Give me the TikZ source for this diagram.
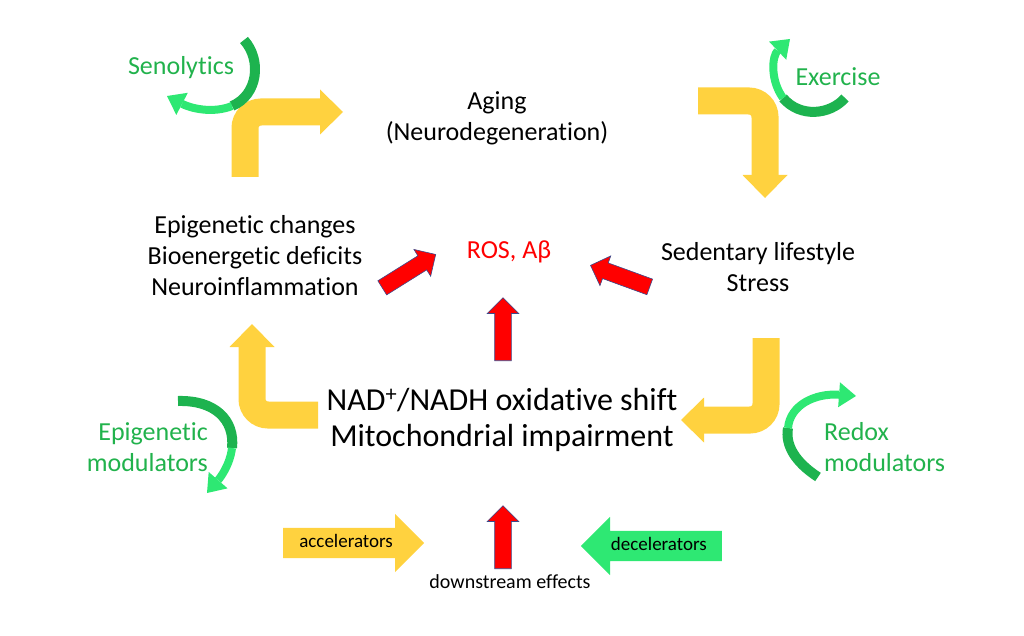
\documentclass[tikz,border=0pt]{standalone}
\usepackage{fontspec}
\setmainfont{Carlito}[Ligatures=NoCommon]
\usepackage{tikz}
\usetikzlibrary{arrows.meta, positioning, shapes.arrows}
\definecolor{BendYellow}{HTML}{FFD23F}
\definecolor{LeafGreen}{HTML}{1DB34F}
\definecolor{LightGreen}{HTML}{2EE873}
\definecolor{TextGreen}{HTML}{21B24C}
\definecolor{ArrowEdge}{HTML}{3B4A8C}

\begin{document}
\begin{tikzpicture}[x=1pt, y=-1pt,
  txt/.style={font=\fontsize{26}{31}\selectfont, align=center, inner sep=0pt},
  big_txt/.style={font=\fontsize{32}{36}\selectfont, align=center, inner sep=0pt},
  grn_txt/.style={txt, text=TextGreen},
  yel_bend/.style={BendYellow, line width=27pt, rounded corners=16pt,
    -{Triangle[length=23pt 0 0, width=45pt 0 0, line width=0pt]}},
  curl_tip/.style={-{Triangle[length=17pt 0 0, width=25pt 0 0, line width=0pt]}},
  red_arr/.style={single arrow, draw=ArrowEdge, line width=0.6pt, fill=red,
    minimum height=63pt, inner xsep=0pt, inner ysep=8pt, single arrow head extend=7.5pt},
  block_arr/.style={single arrow, minimum height=141pt, font=\fontsize{19}{22}\selectfont,
    text height=13pt, text depth=4pt, inner ysep=6.5pt, inner xsep=8pt,
    single arrow head extend=14pt},
]
  \useasboundingbox (0,0) rectangle (1024,636);

  % text blocks
  \node[txt] (aging) at (497,118) {Aging\\(Neurodegeneration)};
  \node[txt] (changes) at (255,256) {Epigenetic changes\\Bioenergetic deficits\\Neuroinflammation};
  \node[txt, text=red] (ros) at (509,252) {ROS, Aβ};
  \node[txt] (lifestyle) at (758,267) {Sedentary lifestyle\\Stress};
  \node[big_txt] (nad) at (502,420) {NAD\textsuperscript{+}/NADH oxidative shift\\Mitochondrial impairment};

  % modulators
  \node[grn_txt] (senolytics) at (181,68) {Senolytics};
  \node[grn_txt] (exercise) at (838,77) {Exercise};
  \node[grn_txt, align=right, anchor=east] (epimod) at (208,447) {Epigenetic\\modulators};
  \node[grn_txt, align=left, anchor=west] (redox) at (824,447) {Redox\\modulators};
  \node[font=\fontsize{20}{23}\selectfont, inner sep=0pt] (downstream) at (510,582) {downstream effects};

  % yellow cycle
  \coordinate (tl_a) at (245,177); \coordinate (tl_b) at (245,112); \coordinate (tl_c) at (343,112);
  \coordinate (tr_a) at (698,101); \coordinate (tr_b) at (765,101); \coordinate (tr_c) at (765,198);
  \coordinate (br_a) at (766,338); \coordinate (br_b) at (766,420); \coordinate (br_c) at (681,420);
  \coordinate (bl_a) at (318,415); \coordinate (bl_b) at (252,415); \coordinate (bl_c) at (252,324);
  \draw[yel_bend] (tl_a) -- (tl_b) -- (tl_c);
  \draw[yel_bend] (tr_a) -- (tr_b) -- (tr_c);
  \draw[yel_bend] (br_a) -- (br_b) -- (br_c);
  \draw[yel_bend] (bl_a) -- (bl_b) -- (bl_c);

  % green curls
  \coordinate (sen_a) at (244,40); \coordinate (sen_b) at (232,106); \coordinate (sen_c) at (167,96);
  \draw[LeafGreen, line width=10pt] (sen_a) .. controls (262,60) and (258,95) .. (sen_b);
  \draw[LightGreen, line width=8pt, curl_tip] (sen_b) .. controls (212,114) and (190,108) .. (sen_c);
  \coordinate (ex_a) at (845,98); \coordinate (ex_b) at (783,98); \coordinate (ex_c) at (790,39);
  \draw[LeafGreen, line width=10pt] (ex_a) .. controls (830,115) and (800,118) .. (ex_b);
  \draw[LightGreen, line width=8pt, curl_tip] (ex_b) .. controls (770,80) and (772,56) .. (ex_c);
  \coordinate (ep_a) at (178,401); \coordinate (ep_b) at (232,448); \coordinate (ep_c) at (207,493);
  \draw[LeafGreen, line width=10pt] (ep_a) .. controls (215,400) and (235,420) .. (ep_b);
  \draw[LightGreen, line width=8pt, curl_tip] (ep_b) .. controls (230,465) and (220,478) .. (ep_c);
  \coordinate (rx_a) at (818,477); \coordinate (rx_b) at (788,428); \coordinate (rx_c) at (856,396);
  \draw[LeafGreen, line width=10pt] (rx_a) .. controls (795,462) and (785,445) .. (rx_b);
  \draw[LightGreen, line width=8pt, curl_tip] (rx_b) .. controls (790,405) and (815,393) .. (rx_c);

  % red arrows
  \node[red_arr, rotate=90, anchor=tail] (up_mid) at (503,361) {};
  \node[red_arr, rotate=32, anchor=tail] (up_left) at (382,288) {};
  \node[red_arr, rotate=160, anchor=tail] (up_right) at (650,287) {};
  \node[red_arr, rotate=90, anchor=tail] (up_low) at (503,569) {};

  % accelerators and decelerators
  \node[block_arr, fill=BendYellow, anchor=tail] (accel) at (283,543) {accelerators};
  \node[block_arr, fill=LightGreen, shape border rotate=180, anchor=tail] (decel) at (722,546) {decelerators};
\end{tikzpicture}
\end{document}
